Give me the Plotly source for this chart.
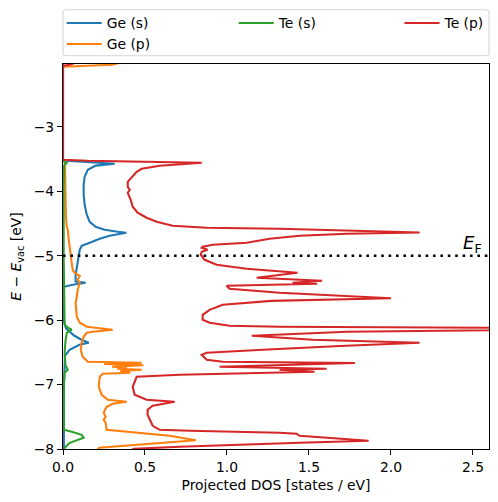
import plotly.graph_objects as go

# ---------------- data (energy in eV, projected DOS in states/eV) ----------------
ge_s_energy = [-2.00, -3.50, -3.525, -3.55, -3.571, -3.60, -3.665, -3.773, -3.898, -4.053,
               -4.208, -4.363, -4.472, -4.55, -4.596, -4.627, -4.643, -4.689, -4.736, -4.798,
               -4.845, -4.907, -5.00, -5.14, -5.295, -5.40, -5.419, -5.45, -5.481, -5.60,
               -6.00, -6.10, -6.134, -6.242, -6.30, -6.351, -6.382, -6.46, -6.553, -7.00, -8.05]
ge_s_dos = [0.0, 0.0, 0.02, 0.20, 0.315, 0.20, 0.151, 0.132, 0.126, 0.126,
            0.132, 0.145, 0.163, 0.199, 0.254, 0.334, 0.386, 0.285, 0.224, 0.163,
            0.114, 0.102, 0.096, 0.084, 0.077, 0.077, 0.138, 0.06, 0.005, 0.004,
            0.005, 0.015, 0.02, 0.07, 0.11, 0.157, 0.10, 0.04, 0.012, 0.006, 0.005]

ge_p_energy = [-2.00, -2.034, -2.05, -2.065, -3.509, -3.54, -3.60, -4.00, -4.40, -4.55,
               -4.596, -4.75, -4.907, -5.109, -5.217, -5.264, -5.311, -5.373, -5.419, -5.528,
               -5.637, -5.730, -5.947, -6.040, -6.102, -6.134, -6.149, -6.180, -6.196, -6.258,
               -6.351, -6.46, -6.568, -6.646, -6.661, -6.68, -6.70, -6.724, -6.739, -6.755,
               -6.770, -6.79, -6.817, -6.832, -6.879, -7.034, -7.158, -7.236, -7.252, -7.267,
               -7.298, -7.345, -7.438, -7.50, -7.547, -7.593, -7.702, -7.733, -7.748, -7.795,
               -7.865, -7.96, -7.981, -8.05]
ge_p_dos = [0.35, 0.30, 0.15, 0.0, 0.0, 0.01, 0.012, 0.014, 0.018, 0.023,
            0.029, 0.035, 0.041, 0.053, 0.059, 0.071, 0.102, 0.090, 0.102, 0.090,
            0.084, 0.077, 0.084, 0.102, 0.145, 0.242, 0.303, 0.181, 0.145, 0.126,
            0.114, 0.108, 0.120, 0.151, 0.48, 0.25, 0.49, 0.30, 0.39, 0.33,
            0.48, 0.35, 0.41, 0.242, 0.224, 0.218, 0.236, 0.273, 0.327, 0.388,
            0.303, 0.266, 0.248, 0.260, 0.248, 0.260, 0.266, 0.388, 0.47, 0.65,
            0.81, 0.36, 0.22, 0.20]

te_s_energy = [-2.00, -3.509, -3.54, -3.556, -3.60, -4.00, -5.00, -6.00, -6.071, -6.118,
               -6.149, -6.196, -6.304, -6.506, -6.70, -6.770, -6.817, -7.00, -7.70, -7.733,
               -7.780, -7.826, -7.857, -7.904, -7.981, -8.05]
te_s_dos = [0.0, 0.0, 0.008, 0.023, 0.006, 0.004, 0.004, 0.006, 0.010, 0.03,
            0.053, 0.023, 0.016, 0.010, 0.015, 0.029, 0.010, 0.005, 0.005, 0.053,
            0.114, 0.126, 0.09, 0.041, 0.010, 0.005]

te_p_energy = [-2.00, -2.034, -2.05, -3.509, -3.525, -3.556, -3.602, -3.649, -3.696, -3.773,
               -3.851, -3.929, -3.975, -4.022, -4.130, -4.239, -4.332, -4.410, -4.472, -4.534,
               -4.565, -4.581, -4.638, -4.658, -4.689, -4.736, -4.798, -4.829, -4.860, -4.876,
               -4.907, -4.938, -4.984, -5.062, -5.140, -5.202, -5.264, -5.342, -5.388, -5.419,
               -5.435, -5.466, -5.512, -5.575, -5.660, -5.700, -5.761, -5.840, -5.916, -5.994,
               -6.040, -6.087, -6.102, -6.130, -6.180, -6.242, -6.304, -6.351, -6.400, -6.460,
               -6.506, -6.537, -6.615, -6.646, -6.655, -6.665, -6.724, -6.755, -6.770, -6.801,
               -6.848, -6.879, -7.034, -7.158, -7.236, -7.267, -7.329, -7.391, -7.469, -7.547,
               -7.640, -7.702, -7.717, -7.748, -7.764, -7.795, -7.826, -7.873, -7.904, -7.935,
               -7.966, -7.997, -8.05]
te_p_dos = [0.08, 0.04, 0.0, 0.0, 0.15, 0.846, 0.59, 0.480, 0.449, 0.419,
            0.395, 0.395, 0.407, 0.395, 0.413, 0.425, 0.455, 0.510, 0.571, 0.669,
            0.876, 1.321, 2.175, 1.730, 1.443, 1.260, 1.120, 0.913, 0.852, 0.846,
            0.882, 0.846, 0.840, 0.864, 0.937, 1.120, 1.430, 1.181, 1.580, 1.400,
            1.550, 0.998, 1.016, 1.321, 2.000, 1.270, 0.974, 0.894, 0.852, 0.852,
            0.894, 1.016, 1.321, 3.600, 1.730, 1.151, 1.522, 2.175, 1.690, 1.218,
            0.876, 0.846, 0.876, 0.974, 1.321, 1.780, 0.955, 1.608, 1.321, 1.534,
            0.712, 0.449, 0.425, 0.437, 0.510, 0.681, 0.547, 0.516, 0.516, 0.529,
            0.547, 0.590, 0.773, 1.321, 1.425, 1.443, 1.608, 1.864, 1.443, 1.016,
            0.712, 0.430, 0.40]

series_names = ["Ge (s)", "Ge (p)", "Te (s)", "Te (p)"]
series_colors = ["#1f77b4", "#ff7f0e", "#2ca02c", "#d62728"]
series_legends = ["legend", "legend", "legend2", "legend3"]
fermi_level = -5.0
x_ticks = [0.0, 0.5, 1.0, 1.5, 2.0, 2.5]
y_ticks = [-3, -4, -5, -6, -7, -8]

# ---------------- figure ----------------
FONT = "DejaVu Sans"
FS = 13.9

fig = go.Figure()
series = [(ge_s_energy, ge_s_dos), (ge_p_energy, ge_p_dos),
          (te_s_energy, te_s_dos), (te_p_energy, te_p_dos)]
for (e, d), name, col, lg in zip(series, series_names, series_colors, series_legends):
    fig.add_trace(go.Scatter(x=d, y=e, mode="lines", name=name, legend=lg,
                             line=dict(color=col, width=2.1)))

# Fermi level
fig.add_shape(type="line", xref="paper", yref="y", x0=0, x1=1, y0=fermi_level, y1=fermi_level,
              line=dict(color="black", width=2.6, dash="2.6px,4.8px"), layer="above")
fig.add_annotation(x=2.565, y=fermi_level, xref="x", yref="y", xanchor="right", yanchor="bottom",
                   text="<i>E</i><sub>F</sub>", showarrow=False,
                   font=dict(family=FONT, size=18, color="black"), yshift=-2)

# legend frame (rounded box)
x0, x1, y0, y1 = 0.0, 1.0, 1.0216, 1.141
rx, ry = 0.0075, 0.0083
path = (f"M{x0+rx},{y0} L{x1-rx},{y0} Q{x1},{y0} {x1},{y0+ry} L{x1},{y1-ry} "
        f"Q{x1},{y1} {x1-rx},{y1} L{x0+rx},{y1} Q{x0},{y1} {x0},{y1-ry} "
        f"L{x0},{y0+ry} Q{x0},{y0} {x0+rx},{y0} Z")
fig.add_shape(type="path", path=path, xref="paper", yref="paper",
              line=dict(color="#d5d5d5", width=1.1), fillcolor="white", layer="below")

leg_common = dict(orientation="v", xanchor="left", yanchor="top", bgcolor="rgba(0,0,0,0)",
                  borderwidth=0, font=dict(family=FONT, size=FS, color="black"),
                  itemwidth=35, tracegroupgap=0)
LY = 1.147
fig.update_layout(
    width=490, height=494,
    margin=dict(l=55, r=9, t=56, b=53, autoexpand=False),
    paper_bgcolor="white", plot_bgcolor="white",
    font=dict(family=FONT, size=FS, color="black"),
    legend=dict(x=-0.003, y=LY, **leg_common),
    legend2=dict(x=0.4007, y=LY, **leg_common),
    legend3=dict(x=0.790, y=LY, **leg_common),
    xaxis=dict(range=[0, 2.598], tickvals=x_ticks, tickformat=".1f",
               showline=True, linecolor="black", linewidth=1.1, mirror=True,
               ticks="outside", ticklen=5, tickwidth=1.1, tickcolor="black",
               showgrid=False, zeroline=False,
               tickfont=dict(family=FONT, size=FS, color="black"),
               title=dict(text="Projected DOS [states / eV]", standoff=6,
                          font=dict(family=FONT, size=FS, color="black"))),
    yaxis=dict(range=[-8, -2.022], tickvals=y_ticks,
               showline=True, linecolor="black", linewidth=1.1, mirror=True,
               ticks="outside", ticklen=5, tickwidth=1.1, tickcolor="black",
               showgrid=False, zeroline=False,
               tickfont=dict(family=FONT, size=FS, color="black"),
               title=dict(text="<i>E</i> − <i>E</i><sub>vac</sub> [eV]", standoff=8,
                          font=dict(family=FONT, size=FS, color="black"))),
)

fig.write_html("out.html")
